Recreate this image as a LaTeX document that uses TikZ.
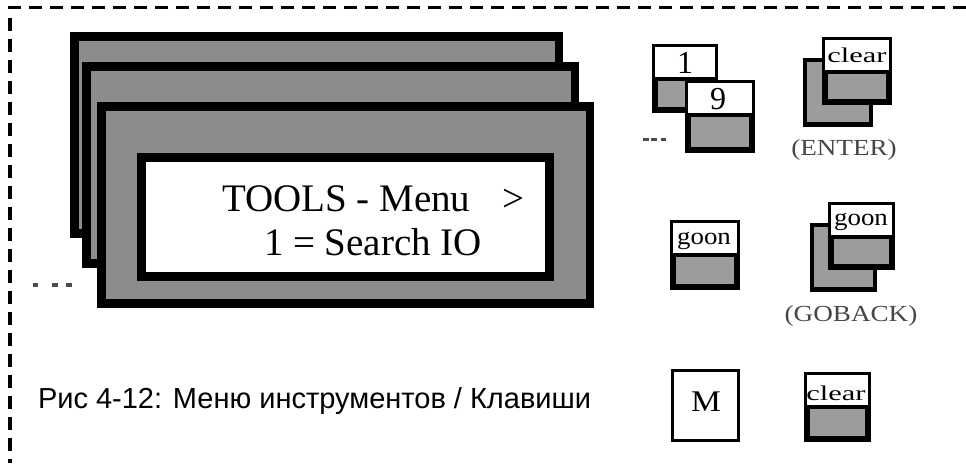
\documentclass[tikz,border=0pt]{standalone}
\usepackage{fontspec}
\setmainfont{Liberation Serif}
\newfontfamily\capfont{Liberation Sans}
\newfontfamily\stretchA[FakeStretch=1.45]{Liberation Serif}
\newfontfamily\stretchB[FakeStretch=1.12]{Liberation Serif}
\newfontfamily\stretchC[FakeStretch=1.18]{Liberation Serif}
\definecolor{scrgray}{RGB}{140,140,140}
\definecolor{keygray}{RGB}{156,156,156}
\definecolor{labgray}{RGB}{70,70,70}
\newcommand\drawscreen[4]{%
  \fill[black] (#1,#2) rectangle (#3,#4);
  \fill[scrgray] (#1+9,#2+9) rectangle (#3-8,#4-9);}
\newcommand\drawkeycap[4]{%
  \fill[black] (#1,#2) rectangle (#3,#4);
  \fill[white] (#1+3,#2+3) rectangle (#3-3,#2+33);
  \fill[keygray] (#1+6,#2+37) rectangle (#3-6,#4-6);}
\newcommand\drawbackkey[4]{%
  \fill[black] (#1,#2) rectangle (#3,#4);
  \fill[keygray] (#1+4,#2+4) rectangle (#3-4,#4-5);}
\tikzset{
  txt/.style={inner sep=0pt, outer sep=0pt},
  border/.style={line width=3.5pt, dash pattern=on 13pt off 8pt, black},
  dotmark/.style={fill=black!70}
}
\begin{document}
\begin{tikzpicture}[x=1pt,y=-1pt]
\useasboundingbox (0,0) rectangle (966,463);
% dashed frame (top and left)
\coordinate (tl) at (10,7.5);
\coordinate (tr) at (966,7.5);
\coordinate (bl) at (10,463);
\draw[border] (tr) -- (tl) -- (bl);

% stacked screens
\drawscreen{70}{32}{563}{238}
\drawscreen{82}{62}{579}{268}
\drawscreen{97}{102}{594}{308}
\fill[black] (137,153) rectangle (554,281);
\fill[white] (146,162) rectangle (545,272);
\node[txt, anchor=base west] (l1) at (222,211) {\fontsize{39}{39}\selectfont TOOLS - Menu};
\node[txt, anchor=base west] (gt) at (502,211) {\fontsize{39}{39}\selectfont >};
\node[txt, anchor=base west] (l2) at (264,255) {\fontsize{39}{39}\selectfont 1 = Search IO};

% left ellipsis
\fill[dotmark] (33,283) rectangle (38,287);
\fill[dotmark] (52,283) rectangle (58,287);
\fill[dotmark] (66,283) rectangle (72,287);

% keys 1 and 9
\drawkeycap{652}{44}{718}{113}
\node[txt, anchor=base] (k1) at (685,73) {\fontsize{32}{32}\selectfont 1};
\drawkeycap{685}{80}{755}{153}
\node[txt, anchor=base] (k9) at (718,109) {\fontsize{32}{32}\selectfont 9};
\fill[dotmark] (643,138) rectangle (649,141);
\fill[dotmark] (651,138) rectangle (657,141);
\fill[dotmark] (661,138) rectangle (666,141);

% clear (ENTER)
\drawbackkey{803}{58}{873}{127}
\drawkeycap{822}{37}{892}{105}
\node[txt, anchor=base] (kc1) at (857,62) {\stretchA\fontsize{21}{21}\selectfont clear};
\node[txt, anchor=base, text=labgray] (enter) at (844,155) {\stretchC\fontsize{23}{23}\selectfont (ENTER)};

% goon
\drawkeycap{670}{220}{740}{290}
\node[txt, anchor=base] (kg1) at (704,244) {\stretchB\fontsize{24}{24}\selectfont goon};

% goon (GOBACK)
\drawbackkey{810}{223}{877}{292}
\drawkeycap{828}{202}{895}{270}
\node[txt, anchor=base] (kg2) at (861,225) {\stretchB\fontsize{24}{24}\selectfont goon};
\node[txt, anchor=base, text=labgray] (goback) at (851,321) {\stretchC\fontsize{23}{23}\selectfont (GOBACK)};

% M key
\fill[black] (671,369) rectangle (740,442);
\fill[white] (674,372) rectangle (737,439);
\node[txt, anchor=base] (km) at (706,411) {\stretchB\fontsize{30}{30}\selectfont M};

% clear key bottom
\drawkeycap{804}{372}{871}{442}
\node[txt, anchor=base] (kc2) at (836,400) {\stretchA\fontsize{21}{21}\selectfont clear};

% caption
\node[txt, anchor=base west] (cap) at (38,408) {\capfont\fontsize{29}{29}\selectfont Рис 4-12: Меню инструментов / Клавиши};
\end{tikzpicture}
\end{document}
